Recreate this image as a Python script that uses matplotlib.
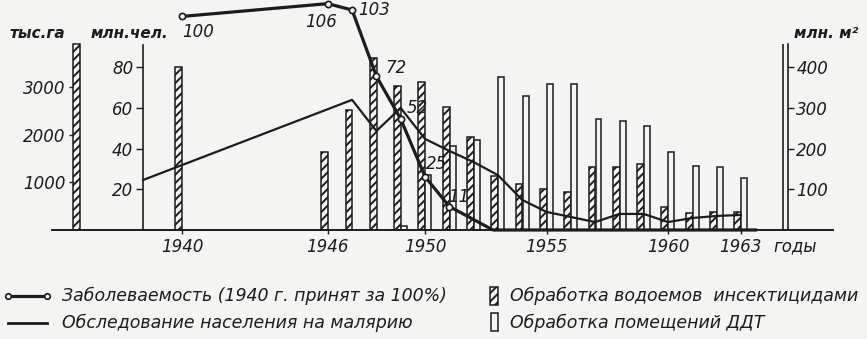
import matplotlib.pyplot as plt
from matplotlib.lines import Line2D
from matplotlib.patches import Rectangle

# Заболеваемость (1940 г. = 100%)
inc_years = [1940, 1946, 1947, 1948, 1949, 1950, 1951, 1952.8, 1963.6]
inc_values = [100, 106, 103, 72, 52, 25, 11, 0, 0]
inc_labels = ["100", "106", "103", "72", "52", "25", "11"]
# label offsets in points (dx, dy)
inc_offsets = [(11.5, -11), (-5, -13.5), (16, 0), (14, 6), (12, 8), (8, 9), (6.5, 7)]

# Обследование населения на малярию, млн. чел.
survey_years = [1938.4, 1947, 1948, 1949, 1950, 1951, 1952, 1953, 1954,
                1955, 1956, 1957, 1958, 1959, 1960, 1961, 1962, 1963]
survey_values = [24.6, 64, 48.7, 60, 44.8, 38.9, 33.4, 27, 14.8,
                 8.9, 6.4, 3.9, 7.9, 7.9, 3.9, 5.9, 6.9, 7.4]

# Обработка водоемов инсектицидами, тыс. га
water_years = [1940, 1946, 1947, 1948, 1949, 1950, 1951, 1952, 1953, 1954,
               1955, 1956, 1957, 1958, 1959, 1960, 1961, 1962, 1963]
water_values = [3430, 1640, 2530, 3620, 3030, 3120, 2590, 1960, 1140, 970,
                860, 810, 1330, 1330, 1390, 480, 360, 380, 380]

# Обработка помещений ДДТ, млн. м2
ddt_years = [1949, 1950, 1951, 1952, 1953, 1954, 1955, 1956,
             1957, 1958, 1959, 1960, 1961, 1962, 1963]
ddt_values = [10, 135, 207, 221, 377, 329, 359, 359,
              273, 268, 256, 192, 157, 155, 128]

year_ticks = [1940, 1946, 1950, 1955, 1960, 1963]

INK = "#1c1c1c"
BG = "#f4f4f2"
W, H = 867, 339

plt.rcParams["font.family"] = ["DejaVu Sans"]
plt.rcParams["font.style"] = "italic"
plt.rcParams["font.size"] = 12
plt.rcParams["hatch.linewidth"] = 1.4
plt.rcParams["hatch.color"] = INK


def fx(px):
    return px / W


def fy(py):
    return 1 - py / H


fig = plt.figure(figsize=(W / 100, H / 100), dpi=100, facecolor=BG)
ax = fig.add_axes([fx(52), fy(230), fx(833) - fx(52), 230 / H])
ax_ha = ax.twinx()
ax_m2 = ax.twinx()
ax_inc = ax.twinx()

for a, z in [(ax_ha, 1), (ax_m2, 2), (ax, 3), (ax_inc, 4)]:
    a.set_zorder(z)
    a.patch.set_visible(False)
    for s in a.spines.values():
        s.set_visible(False)

ax.set_xlim(1934.65, 1966.79)
ax.set_ylim(0, 113.1)
ax_ha.set_ylim(0, 4842)
ax_m2.set_ylim(0, 565.6)
ax_inc.set_ylim(0, 107.7)
ax_inc.set_yticks([])

# bottom axis
ax.spines["bottom"].set_visible(True)
ax.spines["bottom"].set_linewidth(1.4)
ax.spines["bottom"].set_color(INK)
ax.set_xticks(year_ticks)
ax.tick_params(axis="x", direction="out", length=3, width=1, color=INK,
               pad=3, labelsize=12, labelcolor=INK)
fig.text(fx(795), fy(246), "годы", ha="center", va="center", color=INK, fontsize=12)

# млн. чел. axis (plain line)
ax.spines["left"].set_visible(True)
ax.spines["left"].set_position(("data", 1938.4))
ax.spines["left"].set_bounds(0, 90.9)
ax.spines["left"].set_linewidth(1.2)
ax.spines["left"].set_color(INK)
ax.set_yticks([20, 40, 60, 80])
ax.tick_params(axis="y", direction="out", length=5, width=1, color=INK,
               pad=2, labelsize=12, labelcolor=INK)
fig.text(fx(129), fy(33), "млн.чел.", ha="center", va="center",
         color=INK, fontsize=11, fontweight="bold")

# тыс. га axis (hatched bar)
ax_ha.yaxis.set_ticks_position("left")
ax_ha.spines["left"].set_visible(True)
ax_ha.spines["left"].set_position(("data", 1935.5))
ax_ha.spines["left"].set_bounds(0, 3916)
ax_ha.spines["left"].set_color("none")
ax_ha.set_yticks([1000, 2000, 3000])
ax_ha.tick_params(axis="y", direction="out", length=3, width=1, color=INK,
                  pad=2, labelsize=12, labelcolor=INK)
ax_ha.bar(1935.65, 3916, width=0.3, facecolor=BG, edgecolor=INK,
          linewidth=1.1, hatch="////")
fig.text(fx(37), fy(33), "тыс.га", ha="center", va="center",
         color=INK, fontsize=11, fontweight="bold")

# млн. м2 axis (double line)
ax_m2.yaxis.set_ticks_position("right")
ax_m2.spines["right"].set_visible(True)
ax_m2.spines["right"].set_position(("data", 1964.94))
ax_m2.spines["right"].set_bounds(0, 457)
ax_m2.spines["right"].set_linewidth(1.2)
ax_m2.spines["right"].set_color(INK)
ax_m2.vlines(1964.73, 0, 457, color=INK, linewidth=1.2)
ax_m2.set_yticks([100, 200, 300, 400])
ax_m2.tick_params(axis="y", direction="out", length=4, width=1, color=INK,
                  pad=2, labelsize=12, labelcolor=INK)
fig.text(fx(826), fy(34), "млн. м²", ha="center", va="center",
         color=INK, fontsize=11, fontweight="bold")

# bars
ax_ha.bar([y - 0.13 for y in water_years], water_values, width=0.28,
          facecolor=BG, edgecolor=INK, linewidth=1.1, hatch="////")
ax_m2.bar([y + 0.14 for y in ddt_years], ddt_values, width=0.24,
          facecolor=BG, edgecolor=INK, linewidth=1.1)

# lines
ax.plot(survey_years, survey_values, color=INK, linewidth=1.6, clip_on=False)
ax_inc.plot(inc_years, inc_values, color=INK, linewidth=2.3, clip_on=False,
            marker="o", markersize=4.5, markerfacecolor=BG, markeredgecolor=INK,
            markeredgewidth=1.2, markevery=list(range(len(inc_labels))))
for x, v, lab, (dx, dy) in zip(inc_years, inc_values, inc_labels, inc_offsets):
    ax_inc.annotate(lab, (x, v), xytext=(dx, dy), textcoords="offset points",
                    ha="center", va="center", fontsize=12, color=INK,
                    annotation_clip=False)

# legend
fig.add_artist(Line2D([fx(8), fx(47)], [fy(296), fy(296)], color=INK, linewidth=2.3,
                      marker="o", markersize=4, markerfacecolor=BG,
                      markeredgecolor=INK, markeredgewidth=1.2))
fig.add_artist(Line2D([fx(8), fx(47)], [fy(323), fy(323)], color=INK, linewidth=2))
fig.add_artist(Rectangle((fx(490), fy(305)), fx(8), 18 / H, facecolor=BG,
                         edgecolor=INK, linewidth=1.1, hatch="////"))
fig.add_artist(Rectangle((fx(491), fy(331)), fx(7), 18 / H, facecolor=BG,
                         edgecolor=INK, linewidth=1.1))
fig.text(fx(62), fy(296), "Заболеваемость (1940 г. принят за 100%)",
         va="center", color=INK, fontsize=12.5)
fig.text(fx(62), fy(323), "Обследование населения на малярию",
         va="center", color=INK, fontsize=12.5)
fig.text(fx(510), fy(296), "Обработка водоемов  инсектицидами",
         va="center", color=INK, fontsize=12.5)
fig.text(fx(510), fy(323), "Обработка помещений ДДТ",
         va="center", color=INK, fontsize=12.5)

fig.savefig("out.png", dpi=100, facecolor=BG)
